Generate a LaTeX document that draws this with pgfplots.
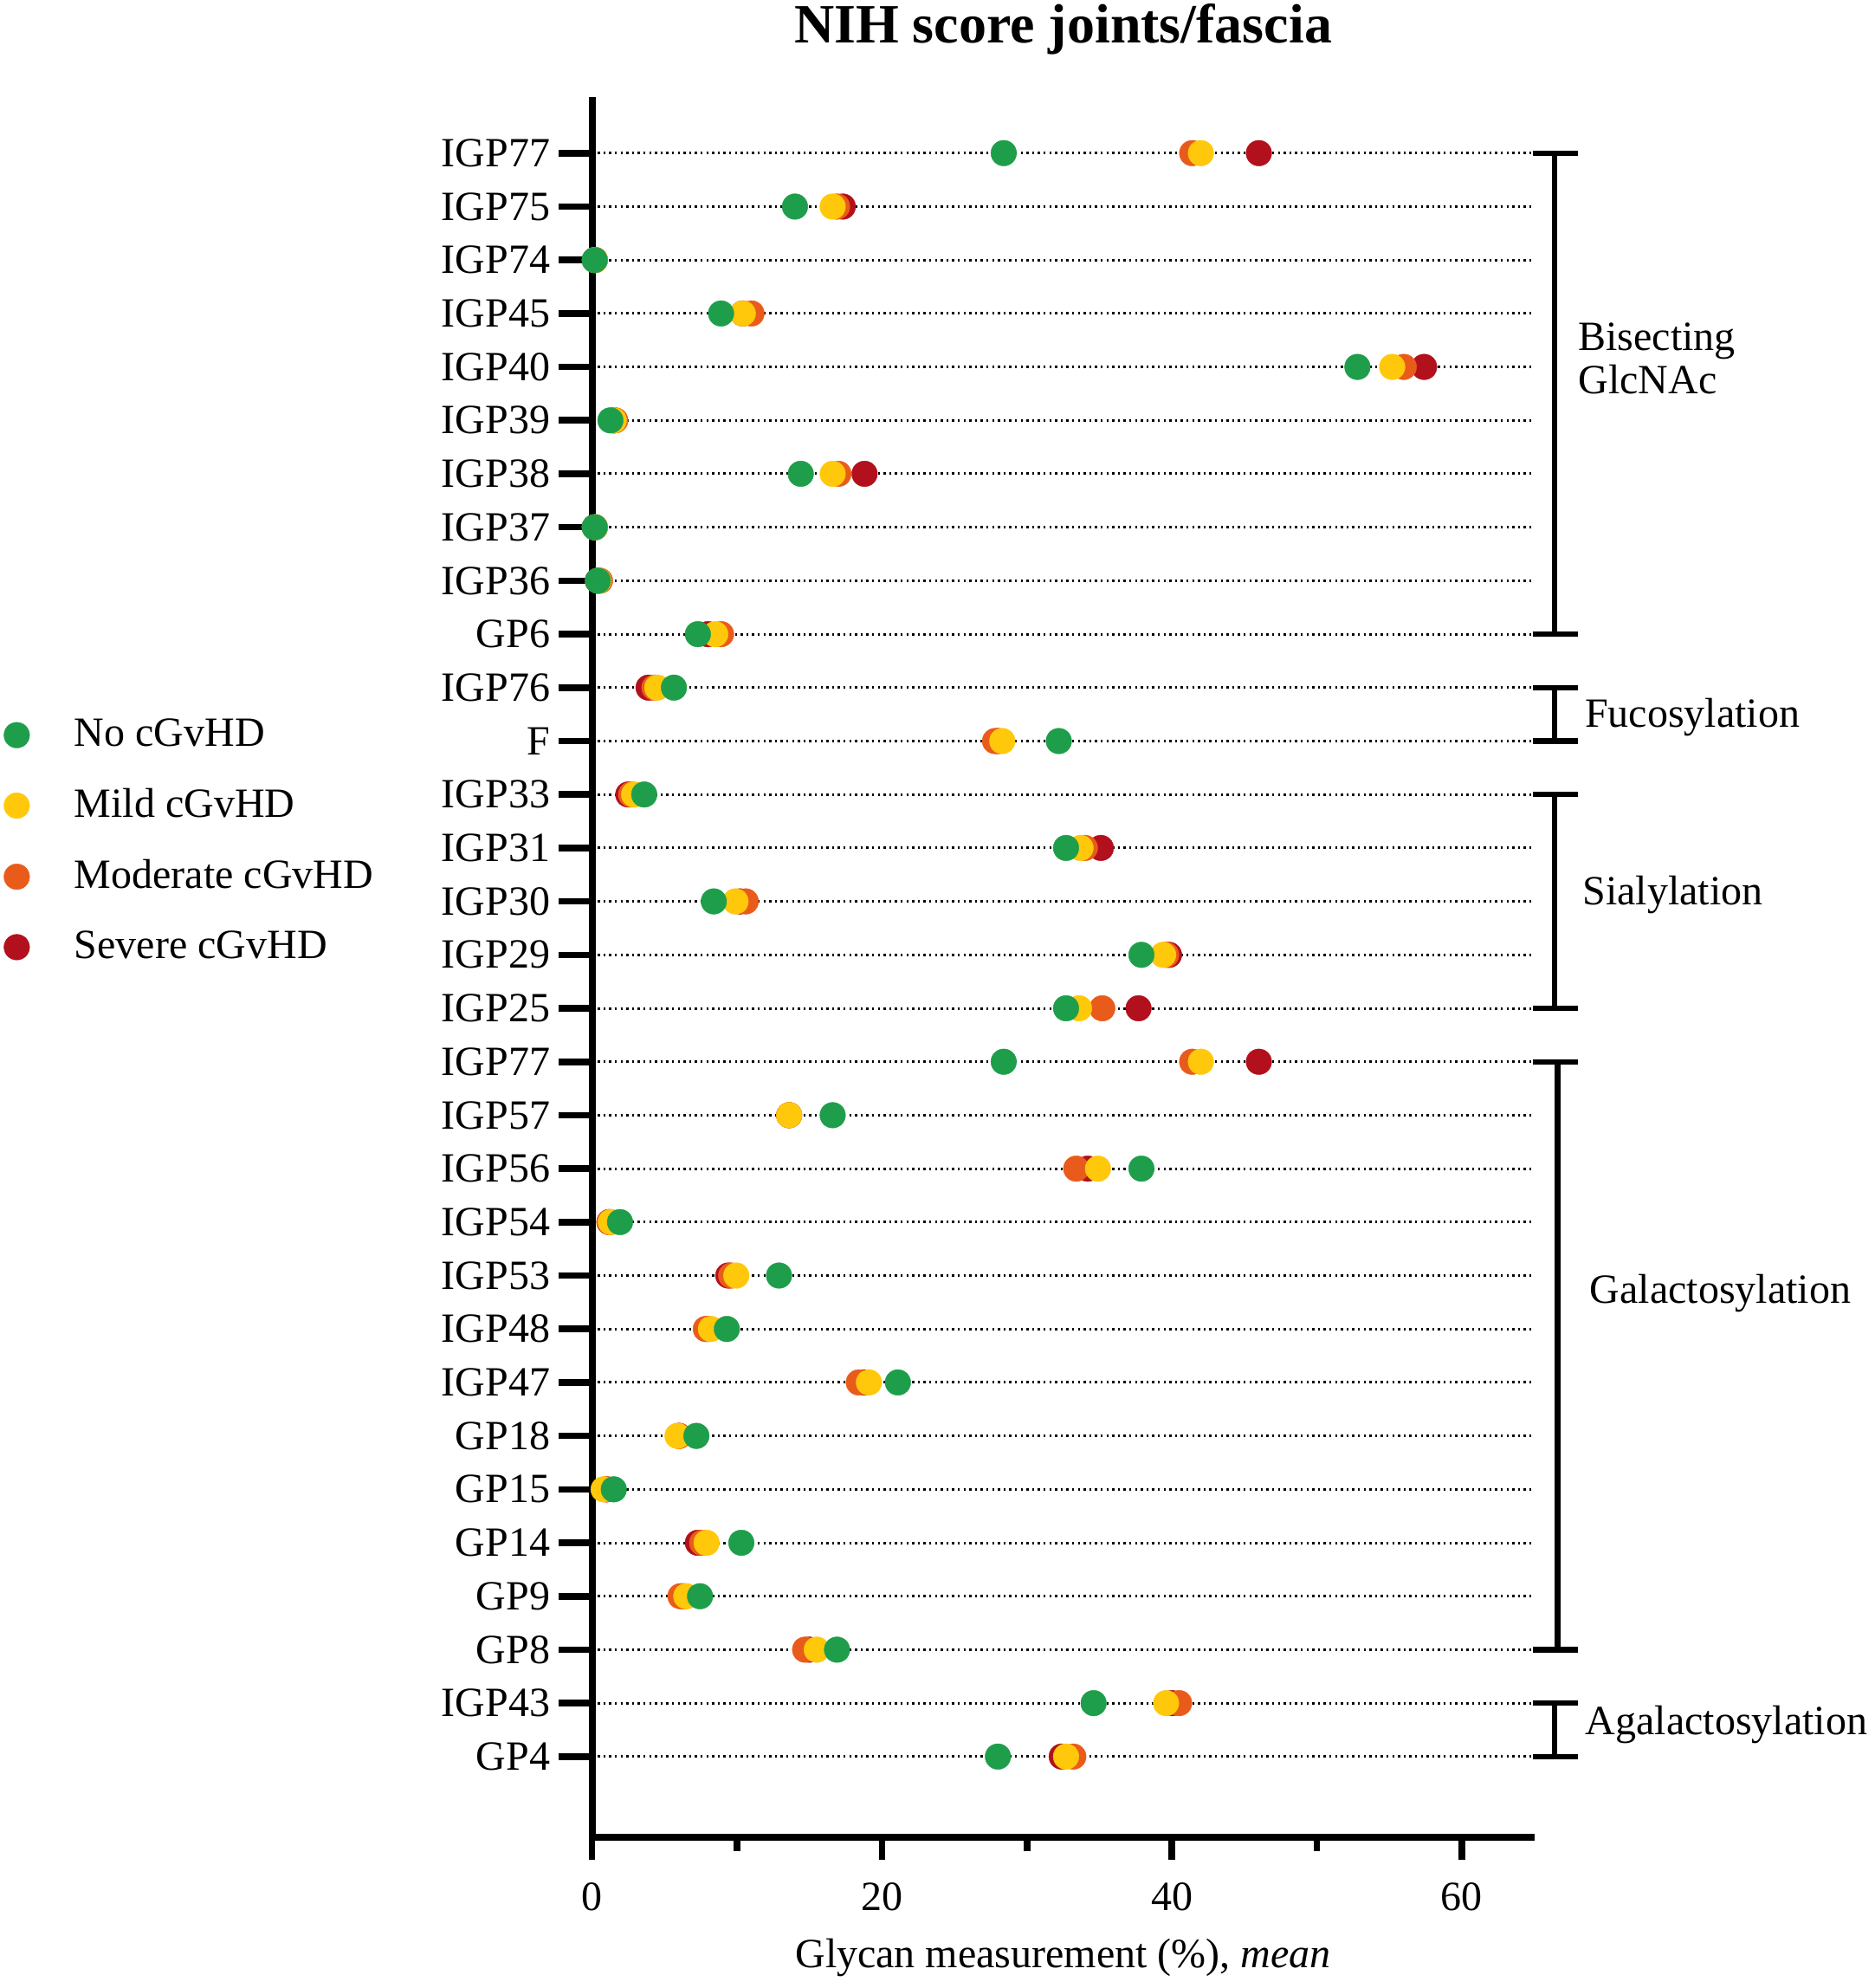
\documentclass[border=0pt]{standalone}
\usepackage{fontspec}
\setmainfont{Liberation Serif}
\usepackage{pgfplots}
\pgfplotsset{compat=1.18}
\definecolor{cNo}{HTML}{1E9E4A}
\definecolor{cMild}{HTML}{FFC80A}
\definecolor{cMod}{HTML}{E95B1B}
\definecolor{cSev}{HTML}{B2101C}
\begin{document}
\begin{tikzpicture}
\path[use as bounding box] (-170.9pt,-43.5pt) rectangle (370.35pt,530.25pt);
\begin{axis}[
  at={(0,0)}, anchor=south west,
  scale only axis, width=272pt, height=502.25pt,
  xmin=0, xmax=65, ymin=-0.51, ymax=32.05,
  axis x line*=bottom, axis y line*=left,
  axis line style={line width=2pt},
  xtick={0,20,40,60}, minor xtick={10,30,50},
  ytick={1,...,31},
  yticklabels={GP4,IGP43,GP8,GP9,GP14,GP15,GP18,IGP47,IGP48,IGP53,IGP54,IGP56,IGP57,IGP77,IGP25,IGP29,IGP30,IGP31,IGP33,F,IGP76,GP6,IGP36,IGP37,IGP38,IGP39,IGP40,IGP45,IGP74,IGP75,IGP77},
  tick align=outside,
  major tick length=9.7pt, minor tick length=4pt,
  xtick style={/pgfplots/major tick length=6.4pt},
  every tick/.style={black, line width=1.9pt},
  ymajorgrids,
  grid style={black, line width=0.75pt, dash pattern=on 0.6pt off 1.05pt},
  ticklabel style={font=\fontsize{12}{14}\selectfont},
  yticklabel style={inner xsep=2.2pt},
  /pgf/number format/assume math mode=true,
  clip=false,
  legend cell align=left, reverse legend,
  legend image code/.code={\draw[#1] plot coordinates {(0pt,0pt)};},
  legend style={at={(axis description cs:-0.6241,0.6467)}, anchor=north west,
    draw=none, fill=none, inner sep=0pt, outer sep=0pt,
    row sep=6.7pt, column sep=10.9pt,
    font=\fontsize{12}{14}\selectfont},
]
\addplot[only marks, mark=*, mark size=3.7pt, color=cSev, mark options={line width=0.1pt}] coordinates {
(46.0,31) (17.3,30) (0.2,29) (10.4,28) (57.4,27) (1.5,26) (18.8,25) (0.2,24) (0.4,23) (8.0,22)
(3.9,21) (28.0,20) (2.5,19) (35.1,18) (10.2,17) (39.8,16) (37.7,15)
(46.0,14) (13.6,13) (34.2,12) (1.2,11) (9.4,10) (8.0,9) (18.8,8) (6.0,7) (1.0,6) (7.3,5) (6.3,4) (15.0,3)
(40.0,2) (32.4,1)};
\addlegendentry{Severe cGvHD}
\addplot[only marks, mark=*, mark size=3.7pt, color=cMod, mark options={line width=0.1pt}] coordinates {
(41.4,31) (16.9,30) (0.2,29) (11.0,28) (56.0,27) (1.6,26) (17.0,25) (0.2,24) (0.55,23) (8.9,22)
(4.3,21) (27.8,20) (2.7,19) (34.0,18) (10.6,17) (39.6,16) (35.2,15)
(41.4,14) (13.6,13) (33.4,12) (1.2,11) (9.6,10) (7.85,9) (18.4,8) (6.0,7) (1.0,6) (7.6,5) (6.1,4) (14.7,3)
(40.5,2) (33.2,1)};
\addlegendentry{Moderate cGvHD}
\addplot[only marks, mark=*, mark size=3.7pt, color=cMild, mark options={line width=0.1pt}] coordinates {
(42.0,31) (16.6,30) (0.2,29) (10.4,28) (55.2,27) (1.5,26) (16.6,25) (0.2,24) (0.45,23) (8.5,22)
(4.5,21) (28.3,20) (2.9,19) (33.7,18) (9.9,17) (39.4,16) (33.6,15)
(42.0,14) (13.6,13) (34.9,12) (1.3,11) (9.95,10) (8.2,9) (19.1,8) (5.9,7) (0.8,6) (7.9,5) (6.5,4) (15.5,3)
(39.6,2) (32.7,1)};
\addlegendentry{Mild cGvHD}
\addplot[only marks, mark=*, mark size=3.7pt, color=cNo, mark options={line width=0.1pt}] coordinates {
(28.4,31) (14.0,30) (0.18,29) (8.9,28) (52.8,27) (1.27,26) (14.4,25) (0.18,24) (0.4,23) (7.3,22)
(5.65,21) (32.2,20) (3.6,19) (32.7,18) (8.4,17) (37.9,16) (32.7,15)
(28.4,14) (16.6,13) (37.9,12) (1.93,11) (12.9,10) (9.3,9) (21.1,8) (7.2,7) (1.5,6) (10.3,5) (7.45,4) (16.9,3)
(34.6,2) (28.0,1)};
\addlegendentry{No cGvHD}
% group brackets
\draw[line width=1.6pt] (axis cs:64.9,31) -- (axis cs:68.0,31) (axis cs:66.4,31) -- (axis cs:66.4,22) (axis cs:64.9,22) -- (axis cs:68.0,22);
\draw[line width=1.6pt] (axis cs:64.9,21) -- (axis cs:68.0,21) (axis cs:66.4,21) -- (axis cs:66.4,20) (axis cs:64.9,20) -- (axis cs:68.0,20);
\draw[line width=1.6pt] (axis cs:64.9,19) -- (axis cs:68.0,19) (axis cs:66.4,19) -- (axis cs:66.4,15) (axis cs:64.9,15) -- (axis cs:68.0,15);
\draw[line width=1.6pt] (axis cs:64.9,14) -- (axis cs:68.0,14) (axis cs:66.6,14) -- (axis cs:66.6,3) (axis cs:64.9,3) -- (axis cs:68.0,3);
\draw[line width=1.6pt] (axis cs:64.9,2) -- (axis cs:68.0,2) (axis cs:66.4,2) -- (axis cs:66.4,1) (axis cs:64.9,1) -- (axis cs:68.0,1);
\begin{scope}[every node/.style={anchor=west, inner sep=0pt, align=left, font=\fontsize{12}{12.5}\selectfont}]
\node at (axis cs:68.0,27.15) {Bisecting\\GlcNAc};
\node at (axis cs:68.45,20.44) {Fucosylation};
\node at (axis cs:68.3,17.12) {Sialylation};
\node at (axis cs:68.8,9.66) {Galactosylation};
\node at (axis cs:68.5,1.6) {Agalactosylation};
\end{scope}
\node[anchor=base, font=\fontsize{16}{18}\selectfont\bfseries] at (rel axis cs:0.5,1) [yshift=15.5pt] {NIH score joints/fascia};
\node[anchor=base, font=\fontsize{12}{14}\selectfont] at (rel axis cs:0.5,0) [yshift=-37.7pt] {Glycan measurement (\%), \textit{mean}};
\end{axis}
\end{tikzpicture}
\end{document}
